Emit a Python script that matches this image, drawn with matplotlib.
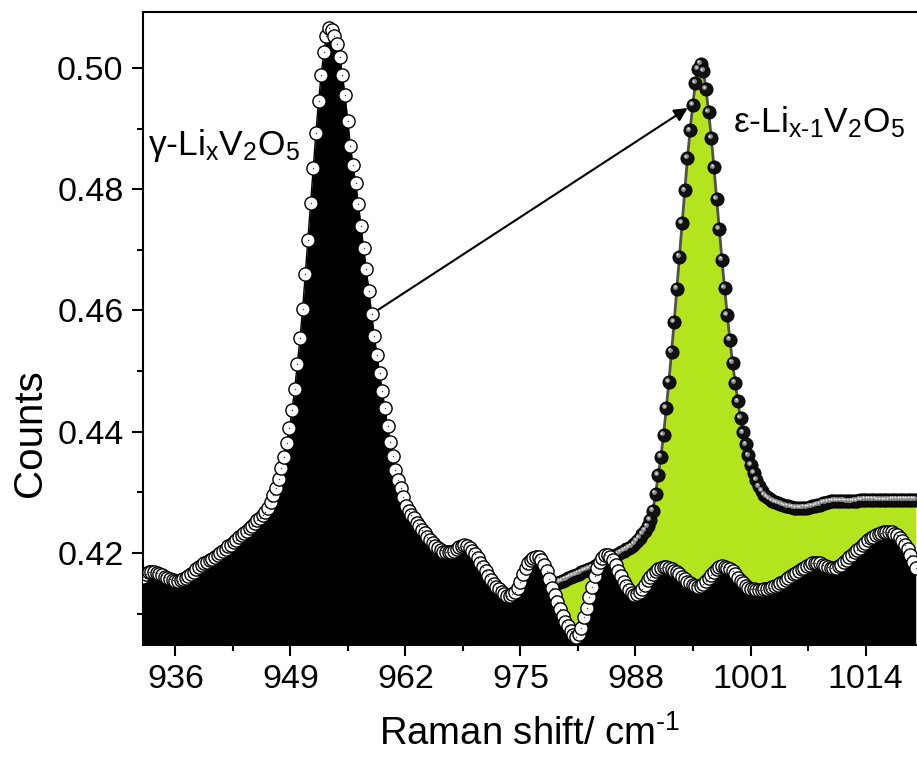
import numpy as np
import matplotlib
matplotlib.use('Agg')
import matplotlib.pyplot as plt
from matplotlib.ticker import MultipleLocator, FormatStrFormatter
from matplotlib.transforms import offset_copy

# Raman spectra, sampled every 0.3 cm-1
shift_start_gamma = 932.37
shift_start_eps = 979.17
shift_step = 0.3

counts_gamma = [
    0.4161, 0.4165, 0.4168, 0.4169, 0.4168, 0.4167, 0.4165, 0.4163, 0.4161, 0.4159,
    0.4157, 0.4155, 0.4154, 0.4154, 0.4155, 0.4157, 0.4159, 0.4162, 0.4165, 0.4169,
    0.4173, 0.4177, 0.4180, 0.4183, 0.4186, 0.4188, 0.4190, 0.4193, 0.4196, 0.4200,
    0.4203, 0.4207, 0.4211, 0.4214, 0.4218, 0.4222, 0.4226, 0.4229, 0.4233, 0.4237,
    0.4241, 0.4245, 0.4250, 0.4254, 0.4258, 0.4263, 0.4268, 0.4275, 0.4284, 0.4295,
    0.4308, 0.4322, 0.4340, 0.4359, 0.4381, 0.4406, 0.4436, 0.4470, 0.4511, 0.4554,
    0.4602, 0.4660, 0.4716, 0.4777, 0.4835, 0.4893, 0.4945, 0.4989, 0.5027, 0.5052,
    0.5066, 0.5062, 0.5052, 0.5039, 0.5018, 0.4988, 0.4955, 0.4913, 0.4872, 0.4840,
    0.4810, 0.4776, 0.4739, 0.4703, 0.4668, 0.4632, 0.4595, 0.4558, 0.4527, 0.4497,
    0.4468, 0.4440, 0.4410, 0.4383, 0.4360, 0.4337, 0.4321, 0.4307, 0.4292, 0.4277,
    0.4270, 0.4263, 0.4257, 0.4250, 0.4244, 0.4238, 0.4233, 0.4227, 0.4222, 0.4216,
    0.4212, 0.4208, 0.4205, 0.4202, 0.4201, 0.4201, 0.4202, 0.4204, 0.4207, 0.4210,
    0.4212, 0.4213, 0.4212, 0.4209, 0.4204, 0.4198, 0.4191, 0.4184, 0.4177, 0.4170,
    0.4162, 0.4155, 0.4149, 0.4144, 0.4140, 0.4136, 0.4133, 0.4129, 0.4129, 0.4132,
    0.4136, 0.4142, 0.4153, 0.4165, 0.4175, 0.4183, 0.4189, 0.4192, 0.4194, 0.4193,
    0.4188, 0.4181, 0.4171, 0.4157, 0.4143, 0.4130, 0.4119, 0.4107, 0.4096, 0.4087,
    0.4079, 0.4072, 0.4065, 0.4062, 0.4066, 0.4077, 0.4094, 0.4110, 0.4127, 0.4144,
    0.4162, 0.4176, 0.4185, 0.4191, 0.4196, 0.4197, 0.4194, 0.4188, 0.4180, 0.4171,
    0.4162, 0.4153, 0.4145, 0.4139, 0.4134, 0.4131, 0.4132, 0.4135, 0.4141, 0.4148,
    0.4155, 0.4161, 0.4166, 0.4170, 0.4173, 0.4175, 0.4177, 0.4177, 0.4176, 0.4174,
    0.4171, 0.4169, 0.4165, 0.4161, 0.4157, 0.4153, 0.4150, 0.4147, 0.4145, 0.4144,
    0.4145, 0.4149, 0.4154, 0.4159, 0.4164, 0.4169, 0.4174, 0.4177, 0.4178, 0.4177,
    0.4176, 0.4174, 0.4170, 0.4165, 0.4159, 0.4154, 0.4150, 0.4146, 0.4143, 0.4141,
    0.4140, 0.4139, 0.4139, 0.4139, 0.4140, 0.4141, 0.4142, 0.4144, 0.4146, 0.4148,
    0.4150, 0.4153, 0.4156, 0.4159, 0.4162, 0.4165, 0.4167, 0.4170, 0.4173, 0.4176,
    0.4179, 0.4181, 0.4183, 0.4184, 0.4184, 0.4183, 0.4181, 0.4179, 0.4177, 0.4176,
    0.4175, 0.4176, 0.4178, 0.4181, 0.4185, 0.4189, 0.4193, 0.4197, 0.4201, 0.4205,
    0.4209, 0.4213, 0.4217, 0.4221, 0.4224, 0.4227, 0.4229, 0.4231, 0.4233, 0.4234,
    0.4235, 0.4235, 0.4234, 0.4232, 0.4229, 0.4225, 0.4220, 0.4214, 0.4206, 0.4196,
    0.4185, 0.4175,
]

counts_eps = [
    0.4150, 0.4152, 0.4154, 0.4156, 0.4158, 0.4160, 0.4162, 0.4164, 0.4166, 0.4168,
    0.4170, 0.4172, 0.4174, 0.4176, 0.4178, 0.4180, 0.4182, 0.4184, 0.4186, 0.4188,
    0.4190, 0.4193, 0.4196, 0.4198, 0.4201, 0.4203, 0.4206, 0.4208, 0.4211, 0.4215,
    0.4220, 0.4225, 0.4231, 0.4237, 0.4244, 0.4254, 0.4270,
    0.4298, 0.4329, 0.4359, 0.4395, 0.4439, 0.4482, 0.4532, 0.4581, 0.4636, 0.4689,
    0.4744, 0.4798, 0.4851, 0.4897, 0.4939, 0.4975, 0.4998, 0.5007, 0.4995, 0.4965,
    0.4927, 0.4884, 0.4836, 0.4784, 0.4734, 0.4684, 0.4637, 0.4593, 0.4552, 0.4514,
    0.4481, 0.4450, 0.4423, 0.4399, 0.4379, 0.4361, 0.4345, 0.4332, 0.4320, 0.4310,
    0.4302, 0.4296, 0.4292, 0.4289, 0.4286, 0.4284, 0.4282, 0.4281, 0.4279, 0.4278,
    0.4277, 0.4276, 0.4275, 0.4274, 0.4274, 0.4274, 0.4275, 0.4275, 0.4276, 0.4277,
    0.4278, 0.4279, 0.4280, 0.4282, 0.4283, 0.4284, 0.4285, 0.4286, 0.4286, 0.4286,
    0.4286, 0.4286, 0.4285, 0.4285, 0.4285, 0.4286, 0.4286, 0.4287, 0.4287, 0.4288,
    0.4288, 0.4288, 0.4288, 0.4288, 0.4287, 0.4287, 0.4287, 0.4287, 0.4287, 0.4288,
    0.4288, 0.4288, 0.4288, 0.4288, 0.4288, 0.4288, 0.4288, 0.4288, 0.4288,
]

x_major_ticks = [936, 949, 962, 975, 988, 1001, 1014]
y_major_ticks = [0.42, 0.44, 0.46, 0.48, 0.50]

label_gamma = 'γ-Li$_\\mathrm{x}$V$_2$O$_5$'
label_eps = 'ε-Li$_\\text{x-1}$V$_2$O$_5$'

shift_gamma = shift_start_gamma + shift_step * np.arange(len(counts_gamma))
shift_eps = shift_start_eps + shift_step * np.arange(len(counts_eps))

plt.rcParams['font.family'] = ['Liberation Sans', 'DejaVu Sans']
plt.rcParams['mathtext.fontset'] = 'custom'
plt.rcParams['mathtext.rm'] = 'Liberation Sans'
plt.rcParams['mathtext.it'] = 'Liberation Sans:italic'
plt.rcParams['mathtext.bf'] = 'Liberation Sans:bold'

fig = plt.figure(figsize=(9.17, 7.61), dpi=100)
ax = fig.add_axes([143 / 917, 116 / 761, 774 / 917, 633 / 761])

# epsilon phase: green area, grey line, dark ball markers
ax.fill_between(shift_eps, counts_eps, 0.40, color='#b4e41e', lw=0, zorder=1)
ax.plot(shift_eps, counts_eps, color='#505050', lw=2, zorder=2)
ax.plot(shift_eps, counts_eps, 'o', ms=9.5, mfc='#111111', mec='black', mew=0.6, zorder=2.1)
shine = offset_copy(ax.transData, fig=fig, x=-1.3, y=1.3, units='points')
ax.plot(shift_eps, counts_eps, 'o', ms=3.5, color='#8c8c8c', mew=0, transform=shine, zorder=2.2)
shine2 = offset_copy(ax.transData, fig=fig, x=-1.6, y=1.6, units='points')
ax.plot(shift_eps, counts_eps, 'o', ms=1.5, color='#e6e6e6', mew=0, transform=shine2, zorder=2.3)

# gamma phase: black area, open circles
ax.fill_between(shift_gamma, counts_gamma, 0.40, color='black', lw=0, zorder=3)
ax.plot(shift_gamma, counts_gamma, color='black', lw=1, zorder=3.1)
ax.plot(shift_gamma, counts_gamma, 'o', ms=9.5, mfc='white', mec='black', mew=1, zorder=4)
ax.plot(shift_gamma, counts_gamma, 'o', ms=1, color='#444444', mew=0, zorder=4.1)

ax.set_xlim(932.33, 1019.82)
ax.set_ylim(0.40483, 0.50923)

ax.set_xticks(x_major_ticks)
ax.xaxis.set_minor_locator(MultipleLocator(6.5))
ax.set_yticks(y_major_ticks)
ax.yaxis.set_minor_locator(MultipleLocator(0.01))
ax.yaxis.set_major_formatter(FormatStrFormatter('%.2f'))

ax.tick_params(which='major', direction='out', length=8, width=1.5, labelsize=24.5, pad=6)
ax.tick_params(which='minor', direction='out', length=4, width=1.5)
for side in ['left', 'top', 'bottom']:
    ax.spines[side].set_linewidth(1.5)
ax.spines['right'].set_visible(False)

ax.set_xlabel('Raman shift/ cm$^\\text{-1}$', fontsize=27.5, labelpad=14)
ax.set_ylabel('Counts', fontsize=29)
ax.yaxis.set_label_coords(-0.122, 0.335)

ax.text(932.9, 0.4856, label_gamma, fontsize=25.5, ha='left', va='baseline', zorder=6)
ax.text(999.0, 0.4894, label_eps, fontsize=25.5, ha='left', va='baseline', zorder=6)

ax.annotate('', xy=(993.9, 0.4934), xytext=(958.9, 0.4601),
            arrowprops=dict(arrowstyle='-|>', color='black', lw=1.5,
                            mutation_scale=20, shrinkA=0, shrinkB=0), zorder=6)

fig.savefig('out.png', dpi=100)
